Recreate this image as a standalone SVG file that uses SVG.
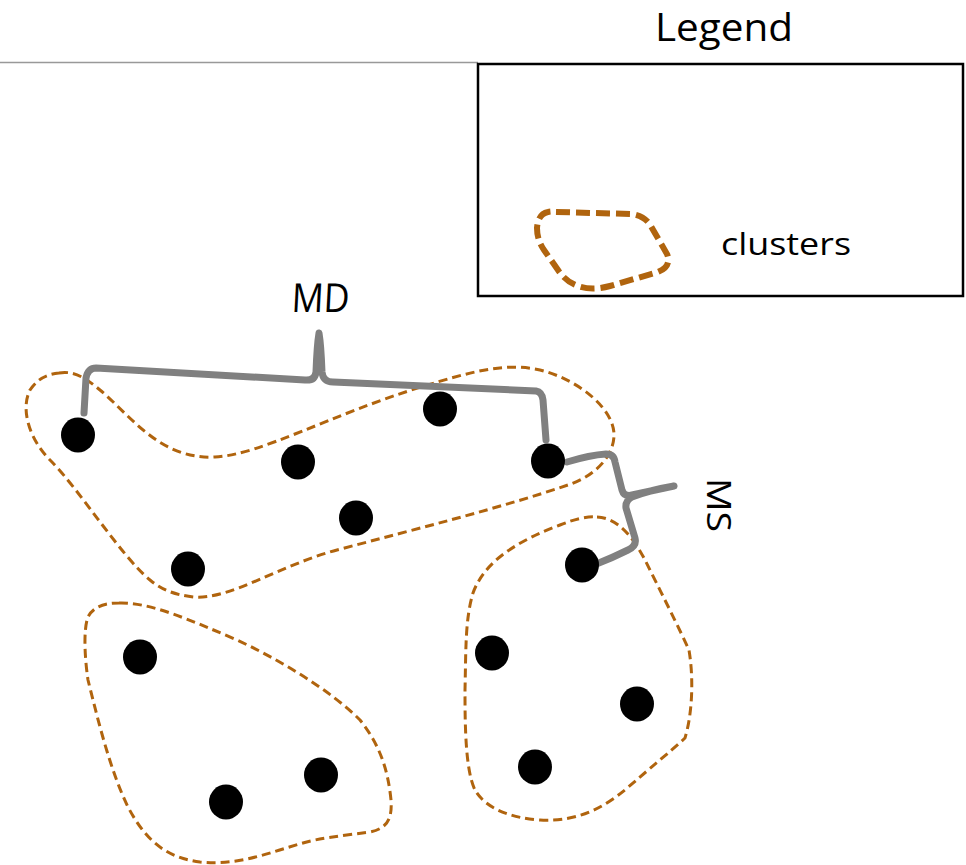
<svg xmlns="http://www.w3.org/2000/svg" width="966" height="865" viewBox="0 0 966 865">
<style>
.txt{font-family:"Open Sans","Liberation Sans",sans-serif;fill:#000}
.cl{fill:none;stroke:#B0640E;stroke-width:3;stroke-dasharray:9 5;stroke-linejoin:round}
.dot{fill:#000}
.br{fill:none;stroke:#808080;stroke-width:7;stroke-linecap:round;stroke-linejoin:round}
</style>
<rect width="966" height="865" fill="#fff"/>
<line x1="0" y1="62.5" x2="478" y2="62.5" stroke="#999" stroke-width="1.5"/>
<g id="legend">
<text class="txt" x="724" y="41" font-size="38" text-anchor="middle" textLength="138" lengthAdjust="spacingAndGlyphs">Legend</text>
<rect x="478" y="64" width="485" height="232" fill="none" stroke="#000" stroke-width="2.5"/>
<path d="M556,212 L632,214 Q646,216 652,228 L667,254 Q672,266 658,272 L610,286 Q592,291 578,286 Q566,282 558,270 L544,250 Q537,240 537,228 Q538,214 548,212 Q552,211 556,212 Z" fill="none" stroke="#B0640E" stroke-width="6" stroke-dasharray="14 6"/>
<text class="txt" x="721" y="255" font-size="31" textLength="130" lengthAdjust="spacingAndGlyphs">clusters</text>
</g>
<g id="clusters">
<path id="clusterA" class="cl" d="M59,373 C75,370 88,380 100,390 C130,415 160,460 215,457 C260,455 330,415 421,387 C470,372 505,362 540,370 C580,380 615,410 614,436 C613,460 590,478 568,485 C500,508 420,528 337,550 C280,565 230,600 194,597 C175,595 162,590 150,580 C120,555 80,490 50,460 C30,440 20,410 30,390 C38,378 48,374 59,373 Z"/>
<path id="clusterB" class="cl" d="M119,603 C150,602 190,620 237,640 C280,660 330,690 360,720 C380,745 388,770 391,800 C392,815 390,828 370,832 C340,836 320,838 303,843 C270,852 240,866 200,862 C170,858 148,845 128,807 C110,770 98,720 88,680 C85,660 83,630 88,617 C93,607 104,603 119,603 Z"/>
<path id="clusterC" class="cl" d="M597,517 C618,518 633,537 645,560 C660,590 680,630 689,650 C694,680 692,715 685,738 C670,752 650,768 625,790 C605,806 580,822 540,820 C510,818 485,808 475,790 C465,770 465,720 465,690 C466,650 465,620 473,593 C485,560 520,540 560,525 C575,519 587,516 597,517 Z"/>
</g>
<g id="connectors">
<path id="MD-bracket" class="br" d="M84,413 L86,378 Q88,368 96,368 L305,380 Q315,381 316,372 Q317,345 319,333 Q321,345 322,372 Q323,382 333,382 L536,391 Q542,392 543,400 L546,440"/>
<path id="MS-bracket" class="br" d="M567,462 Q590,455 606,454 Q614,454 615,462 L622,490 Q624,497 632,495 Q655,490 674,486 Q650,490 632,497 Q625,501 626,508 L635,538 Q637,546 628,550 Q612,558 594,565"/>
</g>
<g id="dots">
<ellipse class="dot" cx="78" cy="435" rx="17" ry="17.5"/>
<ellipse class="dot" cx="298" cy="462" rx="17" ry="17.5"/>
<ellipse class="dot" cx="440" cy="409" rx="17" ry="17.5"/>
<ellipse class="dot" cx="548" cy="461" rx="17" ry="17.5"/>
<ellipse class="dot" cx="356" cy="518" rx="17" ry="17.5"/>
<ellipse class="dot" cx="188" cy="569" rx="17" ry="17.5"/>
<ellipse class="dot" cx="582" cy="565" rx="17" ry="17.5"/>
<ellipse class="dot" cx="140" cy="657" rx="17" ry="17.5"/>
<ellipse class="dot" cx="492" cy="653" rx="17" ry="17.5"/>
<ellipse class="dot" cx="637" cy="704" rx="17" ry="17.5"/>
<ellipse class="dot" cx="321" cy="775" rx="17" ry="17.5"/>
<ellipse class="dot" cx="226" cy="802" rx="17" ry="17.5"/>
<ellipse class="dot" cx="535" cy="767" rx="17" ry="17.5"/>
</g>
<g id="labels">
<text class="txt" x="0" y="0" font-size="40" transform="translate(291,312) skewX(-3)" textLength="58" lengthAdjust="spacingAndGlyphs">MD</text>
<text class="txt" x="0" y="0" font-size="32" transform="translate(707,478) rotate(90)" textLength="54" lengthAdjust="spacingAndGlyphs">MS</text>
</g>
</svg>
